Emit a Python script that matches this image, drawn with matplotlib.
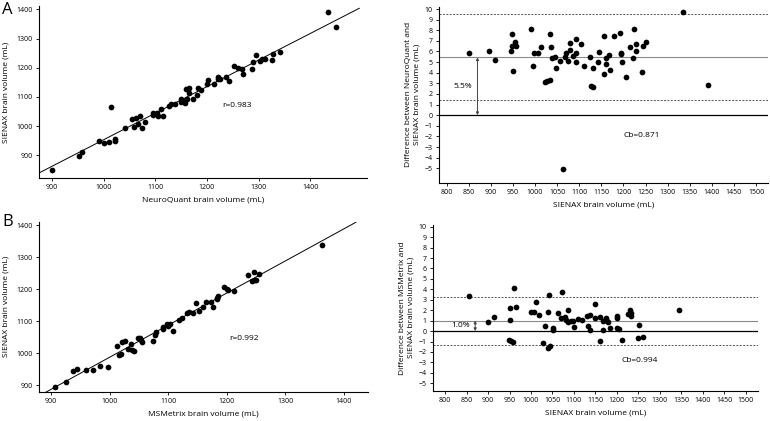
import numpy as np
import matplotlib
matplotlib.use("Agg")
import matplotlib.pyplot as plt

plt.rcParams['font.family'] = ['Open Sans', 'DejaVu Sans']

# ---- A: NeuroQuant vs SIENAX ----
nq_x = [901, 952, 958, 991, 1001, 1010, 1022, 1022, 1014, 1042, 1055, 1058, 1063, 1067,
        1071, 1075, 1080, 1095, 1095, 1103, 1106, 1112, 1115, 1126, 1130, 1139, 1149, 1150,
        1155, 1157, 1161, 1160, 1165, 1165, 1174, 1181, 1183, 1188, 1201, 1203, 1214, 1221,
        1222, 1226, 1237, 1243, 1252, 1261, 1268, 1269, 1288, 1289, 1295, 1302, 1307, 1313,
        1326, 1328, 1341, 1434, 1450]
nq_y = [851, 896, 910, 950, 942, 946, 955, 948, 1066, 995, 1024, 998, 1028, 1007,
        1036, 992, 1014, 1046, 1037, 1046, 1036, 1058, 1033, 1069, 1076, 1074, 1093, 1084,
        1086, 1079, 1091, 1126, 1132, 1112, 1094, 1107, 1132, 1124, 1144, 1158, 1144, 1169,
        1160, 1160, 1169, 1156, 1206, 1198, 1195, 1179, 1195, 1220, 1245, 1222, 1229, 1229,
        1225, 1247, 1253, 1392, 1338]
r_nq = "r=0.983"

# Bland-Altman NeuroQuant - SIENAX
ba1_x = [851, 895, 910, 945, 947, 949, 951, 955, 958, 992, 998, 995, 1006, 1013, 1034,
         1037, 1038, 1022, 1028, 1034, 1045, 1047, 1057, 1068, 1071, 1075, 1079, 1080, 1086,
         1092, 1092, 1093, 1104, 1111, 1125, 1127, 1131, 1131, 1144, 1143, 1155, 1156, 1161,
         1161, 1168, 1169, 1178, 1192, 1194, 1194, 1197, 1206, 1215, 1225, 1222, 1228, 1228,
         1243, 1245, 1251, 1335, 1392, 1063]
ba1_y = [5.88, 6.04, 5.22, 6.07, 7.67, 6.51, 4.15, 6.86, 6.54, 8.11, 5.82, 4.65, 5.88, 6.38, 7.67,
         6.45, 5.40, 3.08, 3.18, 3.30, 5.47, 4.40, 5.09, 5.47, 5.88, 5.09, 6.13, 6.79, 5.57,
         5.88, 5.00, 7.14, 6.73, 4.59, 5.44, 2.77, 2.70, 4.47, 5.97, 5.00, 7.48, 3.84, 4.84,
         5.35, 5.66, 4.25, 7.45, 7.70, 5.88, 5.75, 4.97, 3.55, 6.45, 8.08, 5.38, 6.67, 6.07,
         4.03, 6.51, 6.89, 9.75, 2.89, -5.03]
ba1_mean, ba1_lo, ba1_hi = 5.45, 1.4, 9.55
ba1_pct = "5.5%"
ba1_cb = "Cb=0.871"

# ---- B: MSMetrix vs SIENAX ----
ms_x = [907, 926, 938, 944, 960, 972, 983, 997, 1013, 1016, 1020, 1021, 1027, 1031, 1036,
        1038, 1041, 1049, 1052, 1053, 1056, 1075, 1078, 1080, 1091, 1092, 1098, 1100, 1104,
        1109, 1119, 1124, 1132, 1135, 1142, 1147, 1152, 1159, 1165, 1173, 1176, 1183, 1186,
        1184, 1196, 1200, 1203, 1212, 1237, 1243, 1247, 1248, 1251, 1255, 1363]
ms_y = [895, 911, 944, 950, 947, 947, 959, 956, 1022, 995, 999, 1035, 1039, 1014, 1028,
        1009, 1008, 1046, 1046, 1041, 1035, 1038, 1058, 1066, 1075, 1081, 1092, 1085, 1091,
        1070, 1105, 1110, 1126, 1129, 1125, 1156, 1132, 1144, 1161, 1161, 1145, 1171, 1178,
        1168, 1207, 1200, 1197, 1194, 1243, 1224, 1252, 1228, 1228, 1246, 1337]
r_ms = "r=0.992"

# Bland-Altman MSMetrix - SIENAX
ba2_x = [856, 899, 915, 950, 951, 949, 954, 958, 960, 964, 1001, 1006, 1012, 1019, 1027,
         1032, 1039, 1040, 1044, 1043, 1052, 1052, 1063, 1069, 1073, 1079, 1082, 1087, 1087,
         1093, 1098, 1100, 1110, 1118, 1130, 1132, 1137, 1138, 1149, 1150, 1162, 1162, 1168,
         1168, 1175, 1177, 1180, 1185, 1200, 1201, 1200, 1206, 1212, 1226, 1231, 1232, 1234,
         1251, 1250, 1260, 1344]
ba2_y = [3.32, 0.83, 1.34, 2.20, 1.05, -0.86, -0.96, -1.02, 4.12, 2.27, 1.82, 1.82, 2.81, 1.53, -1.12,
         0.48, 1.82, -1.60, -1.44, 3.45, 0.29, 0.13, 1.73, 1.21, 3.74, 1.34, 1.02, 1.98, 0.86,
         0.96, 0.96, 0.35, 1.12, 1.05, 1.40, 0.51, 1.57, 0.10, 1.25, 2.62, 1.37, -0.99, 0.99,
         0.06, 1.25, 0.96, 0.83, 0.29, 1.44, 1.21, 0.29, 0.19, -0.89, 1.60, 2.01, 1.73, 1.44,
         0.61, -0.64, -0.54, 1.98]
ba2_mean, ba2_lo, ba2_hi = 1.0, -1.3, 3.3
ba2_pct = "1.0%"
ba2_cb = "Cb=0.994"

W, H = 770, 421
TICK_FS = 5
LAB_FS = 6
DOT = 17


def px_axes(fig, x0, y0, x1, y1):
    # pixel box (top-left origin) -> axes
    return fig.add_axes([x0 / W, 1 - y1 / H, (x1 - x0) / W, (y1 - y0) / H])


def style(ax):
    for s in ['top', 'right']:
        ax.spines[s].set_visible(False)
    for s in ['left', 'bottom']:
        ax.spines[s].set_linewidth(0.8)
    ax.tick_params(direction='out', length=2.5, width=0.6, labelsize=TICK_FS, pad=2)


def scatter_panel(ax, x, y, xlim, ylim, fit_range, xlabel, rtext, rpos):
    style(ax)
    a, b = np.polyfit(x, y, 1)
    xx = np.array(fit_range)
    ax.plot(xx, a * xx + b, color='black', lw=0.7)
    ax.scatter(x, y, s=DOT, color='black', zorder=3, linewidths=0)
    ax.set_xlim(*xlim)
    ax.set_ylim(*ylim)
    ax.set_xticks(range(900, 1401, 100))
    ax.set_yticks(range(900, 1401, 100))
    ax.set_xlabel(xlabel, fontsize=LAB_FS, labelpad=4)
    ax.set_ylabel("SIENAX brain volume (mL)", fontsize=LAB_FS, labelpad=5)
    ax.text(rpos[0], rpos[1], rtext, fontsize=LAB_FS, ha='center', va='center')


def ba_panel(ax, x, y, ylim, xlim, mean, lo, hi, pct, cb, cbpos, ylabel):
    style(ax)
    ax.axhline(hi, color='#555555', lw=0.7, ls=(0, (2, 1.5)))
    ax.axhline(lo, color='#555555', lw=0.7, ls=(0, (2, 1.5)))
    ax.axhline(mean, color='#8a8a8a', lw=0.8)
    ax.axhline(0, color='black', lw=0.9)
    ax.scatter(x, y, s=DOT, color='black', zorder=3, linewidths=0)
    ax.annotate('', xy=(870, 0), xytext=(870, mean),
                arrowprops=dict(arrowstyle='<|-|>', color='#444444', lw=0.7,
                                mutation_scale=4, shrinkA=0, shrinkB=0))
    ax.text(836, mean / 2, pct, fontsize=LAB_FS, ha='center', va='center')
    ax.text(cbpos[0], cbpos[1], cb, fontsize=LAB_FS, ha='center', va='center')
    ax.set_xlim(*xlim)
    ax.set_ylim(*ylim)
    ax.set_xticks(range(800, 1501, 50))
    ax.set_yticks(range(-5, 11))
    ax.set_xlabel("SIENAX brain volume (mL)", fontsize=LAB_FS, labelpad=4)
    ax.set_ylabel(ylabel, fontsize=LAB_FS, labelpad=3, linespacing=1.3)


fig = plt.figure(figsize=(W / 100, H / 100), dpi=100)

ax1 = px_axes(fig, 39, 6.4, 367, 178)
scatter_panel(ax1, nq_x, nq_y, (875, 1510), (822, 1410), (875, 1495),
              "NeuroQuant brain volume (mL)", r_nq, (1259, 1071))

ax2 = px_axes(fig, 439, 6.9, 768, 182.7)
ba_panel(ax2, ba1_x, ba1_y, (-6.36, 10.2), (783, 1527), ba1_mean, ba1_lo, ba1_hi,
         ba1_pct, ba1_cb, (1241, -1.9),
         "Difference between NeuroQuant and\nSIENAX brain volume (mL)")

ax3 = px_axes(fig, 39.3, 221.8, 368.3, 391.7)
scatter_panel(ax3, ms_x, ms_y, (880, 1442), (880, 1410), (891, 1421),
              "MSMetrix brain volume (mL)", r_ms, (1230, 1047))

ax4 = px_axes(fig, 432.7, 224.6, 758, 391)
ba_panel(ax4, ba2_x, ba2_y, (-5.74, 10.2), (771, 1529), ba2_mean, ba2_lo, ba2_hi,
         ba2_pct, ba2_cb, (1254, -2.84),
         "Difference between MSMetrix and\nSIENAX brain volume (mL)")

fig.text(2 / W, 1 - 10 / H, "A", fontsize=12, va='center', ha='left')
fig.text(2 / W, 1 - 222 / H, "B", fontsize=12, va='center', ha='left')

fig.savefig("out.png", dpi=100)
